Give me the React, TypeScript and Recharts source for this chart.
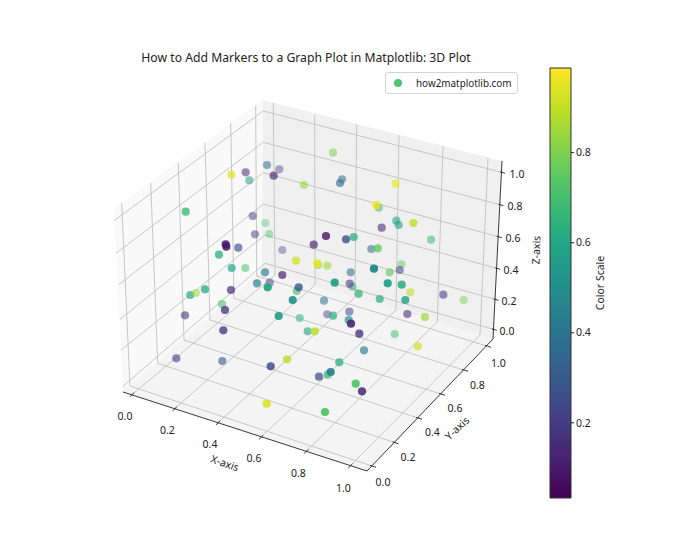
import React from "react";
import { Bar, BarChart, Scatter, ScatterChart, XAxis, YAxis } from "recharts";

const WIDTH = 700;
const HEIGHT = 560;
const FONT = "'Noto Sans', sans-serif";

// Scatter values, in projected plot units.
// Listed back to front so overlapping markers stack like the original.
const projX = [
  267, 279.3, 273.7, 245.7, 249.3, 231.3, 304, 333, 342, 340, 395.7, 185.7, 252.7, 265.3, 255, 269.3,
  378.7, 376.3, 396.3, 398.7, 413.3, 381.7, 225.7, 226.3, 238.3, 219, 282.3, 326, 313.7, 346, 353.7,
  431, 371.3, 377.7, 296, 318, 317.3, 327.3, 231.7, 245.3, 265, 282.3, 257, 269.7, 267.7, 296.7, 298.7,
  401.3, 374, 350.7, 389.7, 399.7, 205, 190.3, 196, 231, 222, 225, 334.7, 352.3, 349.7, 387.7, 401.7,
  410.3, 358.7, 443.3, 463.7, 292.7, 324, 379.7, 405.3, 185, 278.7, 299.7, 349.3, 327.3, 333, 407.3,
  425, 348.7, 351, 223.3, 307.7, 314.7, 359.3, 394.7, 176.3, 222.3, 287, 270.7, 417.7, 364, 339.3,
  327.7, 319, 330.7, 355.7, 362, 266.7, 325,
];
const projY = [
  165, 169.3, 175.7, 172.3, 180.3, 174.7, 185, 152.7, 179.3, 183, 183.7, 211.7, 216, 223, 234.3, 234,
  207.7, 205, 220.7, 225, 223, 227.7, 244.3, 246.7, 247.7, 254.7, 250, 236, 244.7, 239.3, 237,
  239.7, 249, 248.3, 260.7, 265, 263.3, 265.7, 268, 268, 272.3, 275, 283.3, 282.7, 287.3, 291, 287.3,
  264.3, 268.7, 272.3, 272.3, 270, 289.3, 295, 293, 290, 304, 310, 282.7, 286.7, 283.7, 283.3, 284.7,
  292.3, 293.7, 294.7, 300, 300, 300.7, 299, 300, 315.3, 316, 318, 311.7, 314.3, 315.7, 314,
  317, 320, 323.7, 330.3, 331.3, 331.3, 333.7, 334, 358.3, 361, 359.3, 366.3, 346.3, 350.3, 362.3,
  374.7, 376.7, 372, 383.7, 391.3, 403.7, 412,
];
const colorValue = [
  0.38, 0.2, 0.1, 0.12, 0.58, 0.95, 0.85, 0.8, 0.35, 0.33, 0.97, 0.68, 0.15, 0.72, 0.18, 0.72,
  0.72, 0.97, 0.6, 0.55, 0.9, 0.12, 0.07, 0.06, 0.22, 0.62, 0.2, 0.06, 0.07, 0.25, 0.6,
  0.68, 0.35, 0.75, 0.93, 0.78, 0.97, 0.87, 0.6, 0.72, 0.42, 0.1, 0.45, 0.17, 0.6, 0.68, 0.27,
  0.75, 0.45, 0.33, 0.75, 0.2, 0.6, 0.62, 0.85, 0.13, 0.7, 0.13, 0.58, 0.55, 0.13, 0.58, 0.62,
  0.9, 0.67, 0.2, 0.8, 0.5, 0.38, 0.62, 0.57, 0.18, 0.55, 0.65, 0.22, 0.15, 0.62, 0.15,
  0.85, 0.5, 0.12, 0.18, 0.55, 0.9, 0.17, 0.72, 0.17, 0.27, 0.9, 0.25, 0.93, 0.42, 0.62,
  0.65, 0.2, 0.42, 0.72, 0.1, 0.95, 0.73,
];
const depthShade = [
  0.55, 0.45, 0.65, 0.55, 0.55, 0.7, 0.6, 0.55, 0.55, 0.6, 0.7, 0.8, 0.5, 0.4, 0.5, 0.45,
  0.6, 0.8, 0.6, 0.6, 0.8, 0.6, 0.85, 0.85, 0.65, 0.75, 0.4, 0.8, 0.65, 0.8, 0.7,
  0.55, 0.55, 0.8, 0.75, 0.55, 0.9, 0.6, 0.7, 0.55, 0.65, 0.7, 0.7, 0.5, 0.95, 0.6, 0.8,
  0.5, 0.95, 0.55, 0.6, 0.55, 0.75, 0.7, 0.55, 0.7, 0.6, 0.75, 0.95, 0.45, 0.55, 0.95, 0.85,
  0.6, 0.75, 0.6, 0.5, 0.9, 0.55, 0.7, 0.8, 0.6, 0.9, 0.55, 0.55, 0.45, 0.7, 0.6,
  0.7, 0.7, 0.9, 0.8, 0.6, 0.85, 0.8, 0.55, 0.6, 0.6, 0.8, 0.85, 0.7, 0.65, 0.75,
  0.7, 0.7, 0.9, 0.9, 0.85, 0.9, 0.95,
];

const tickLabels = ["0.0", "0.2", "0.4", "0.6", "0.8", "1.0"];
const colorbarTicks = [0.2, 0.4, 0.6, 0.8];
const colorbarMin = 0.033;
const colorbarMax = 0.988;

type P = [number, number];

// box of the 3D axes
const floorLeft: P = [123, 392];
const floorFront: P = [367, 471];
const floorRight: P = [493, 339];
const floorBack: P = [262, 271];
const topBack: P = [263, 100];
const topRight: P = [502, 161];
const topLeft: P = [114, 209];

// grid anchors for 0.0 .. 1.0 on each axis
const xFront: P[] = [[131.7, 394.8], [174.3, 409], [217.7, 423], [260.7, 437.4], [306, 451.5], [350, 466]];
const xBack: P[] = [[275, 275], [315, 285], [355, 297.3], [396, 310], [437.3, 321.7], [480, 335]];
const xTop: P[] = [[273.3, 103], [314.7, 115], [356.7, 124], [399, 135], [443, 146], [488, 157.7]];
const yFront: P[] = [[372, 466], [394.5, 442.5], [418, 418], [441, 394], [464, 370], [487, 346]];
const yLeft: P[] = [[130, 386], [157.7, 363.3], [184, 340], [210, 320], [234, 298.3], [256.7, 276]];
const yTop: P[] = [[121.7, 203], [150.7, 183], [178.3, 162.7], [205, 143], [230.7, 123.3], [255.7, 105.7]];
const zLeft: P[] = [[122.7, 386.7], [121, 350], [120, 319.3], [118.3, 285], [116, 253.3], [114, 220.7]];
const zBack: P[] = [[265, 263.3], [265, 235], [263.3, 204], [263.3, 172.7], [263.3, 142.3], [263.3, 111]];
const zRight: P[] = [[493.3, 329.3], [495, 299.3], [496.7, 268.3], [498.3, 236.7], [500, 204.7], [501.5, 172.3]];

const xLabelPos: P[] = [[125, 416], [167.3, 430], [210, 444], [254, 458.3], [298.3, 473.3], [343.3, 487.7]];
const yLabelPos: P[] = [[383, 482], [408, 456.7], [432.3, 432.3], [455, 408.3], [477.3, 385], [498.3, 362.7]];
const zLabelPos: P[] = [[507, 331], [509, 301], [511, 270], [513, 238], [515, 206], [517, 174]];

const viridisStops = [
  "#440154", "#482475", "#414487", "#355f8d", "#2a788e", "#21918c",
  "#22a884", "#44bf70", "#7ad151", "#bddf26", "#fde725",
];

const hexToRgb = (h: string) => [1, 3, 5].map((i) => parseInt(h.slice(i, i + 2), 16));

const viridis = (t: number) => {
  const pos = Math.min(Math.max(t, 0), 1) * (viridisStops.length - 1);
  const i = Math.min(Math.floor(pos), viridisStops.length - 2);
  const a = hexToRgb(viridisStops[i]);
  const b = hexToRgb(viridisStops[i + 1]);
  const c = a.map((v, k) => Math.round(v + (b[k] - v) * (pos - i)));
  return `rgb(${c[0]},${c[1]},${c[2]})`;
};

const points = projX.map((x, i) => ({ x, y: projY[i], c: colorValue[i], a: depthShade[i] }));

const noMark = () => <g />;

const Dot = (p: any) => (
  <circle cx={p.cx} cy={p.cy} r={4.1} fill={viridis(p.payload.c)} fillOpacity={p.payload.a} />
);

const Label = (p: any) => {
  const { text, size = 10.5, angle = 0 } = p.payload;
  return (
    <text
      x={p.cx}
      y={p.cy}
      fontSize={size}
      fontFamily={FONT}
      fill="#222"
      textAnchor="middle"
      dominantBaseline="central"
      transform={angle ? `rotate(${angle} ${p.cx} ${p.cy})` : undefined}
    >
      {text}
    </text>
  );
};

const toPts = (ps: P[]) => ps.map(([x, y]) => ({ x, y }));

const pane = (key: string, ps: P[], fill: string) => (
  <Scatter
    key={key}
    data={toPts([...ps, ps[0]])}
    line={{ fill, stroke: "none" }}
    shape={noMark}
    isAnimationActive={false}
  />
);

const seg = (key: string, ps: P[], stroke = "#c6c6c6", strokeWidth = 1) => (
  <Scatter
    key={key}
    data={toPts(ps)}
    line={{ stroke, strokeWidth, fill: "none" }}
    shape={noMark}
    isAnimationActive={false}
  />
);

const shift = ([x, y]: P, dx: number, dy: number): P => [x + dx, y + dy];

const labelData = [
  { x: 306, y: 57, text: "How to Add Markers to a Graph Plot in Matplotlib: 3D Plot", size: 12.2 },
  { x: 225, y: 463, text: "X-axis", size: 10.5, angle: 19 },
  { x: 457, y: 428, text: "Y-axis", size: 10.5, angle: -43 },
  { x: 536, y: 250, text: "Z-axis", size: 10.5, angle: -88 },
  { x: 600, y: 283, text: "Color Scale", size: 10.5, angle: -90 },
  ...tickLabels.flatMap((text, i) => [
    { x: xLabelPos[i][0], y: xLabelPos[i][1], text },
    { x: yLabelPos[i][0], y: yLabelPos[i][1], text },
    { x: zLabelPos[i][0], y: zLabelPos[i][1], text },
  ]),
];

export default function App() {
  return (
    <div style={{ position: "absolute", left: 0, top: 0, width: WIDTH, height: HEIGHT, background: "#fff" }}>
      <ScatterChart width={WIDTH} height={HEIGHT} margin={{ top: 0, right: 0, bottom: 0, left: 0 }}>
        <XAxis type="number" dataKey="x" domain={[0, WIDTH]} hide />
        <YAxis type="number" dataKey="y" domain={[0, HEIGHT]} reversed hide />

        {pane("left", [floorLeft, floorBack, topBack, topLeft], "#f9f9f9")}
        {pane("right", [floorBack, topBack, topRight, floorRight], "#f0f0f0")}
        {pane("floor", [floorLeft, floorFront, floorRight, floorBack], "#f4f4f4")}

        {xFront.map((p, i) => seg(`gx${i}`, [p, xBack[i], xTop[i]]))}
        {yFront.map((p, i) => seg(`gy${i}`, [p, yLeft[i], yTop[i]]))}
        {zLeft.map((p, i) => seg(`gz${i}`, [p, zBack[i], zRight[i]]))}

        {seg("axis", [floorLeft, floorFront, floorRight, topRight], "#222", 0.9)}
        {xFront.map((p, i) => seg(`tx${i}`, [shift(p, 2.5, -2.2), shift(p, -1.8, 2)], "#222", 0.9))}
        {yFront.map((p, i) => seg(`ty${i}`, [shift(p, -2, -0.7), shift(p, 4, 1.3)], "#222", 0.9))}
        {zRight.map((p, i) => seg(`tz${i}`, [shift(p, -1.5, -0.5), shift(p, 3.5, 1)], "#222", 0.9))}

        <Scatter data={points} shape={Dot} isAnimationActive={false} />
        <Scatter data={labelData} shape={Label} isAnimationActive={false} />
      </ScatterChart>

      {/* colorbar */}
      <div style={{ position: "absolute", left: 549, top: 67 }}>
        <BarChart
          width={50}
          height={432}
          data={[{ name: "scale", value: colorbarMax }]}
          margin={{ top: 1, right: 0, bottom: 1, left: 1 }}
          barCategoryGap={0}
        >
          <defs>
            <linearGradient id="viridis" x1="0" y1="1" x2="0" y2="0">
              {viridisStops.map((c, i) => (
                <stop key={c} offset={i / (viridisStops.length - 1)} stopColor={c} />
              ))}
            </linearGradient>
          </defs>
          <XAxis dataKey="name" hide />
          <YAxis
            orientation="right"
            width={28}
            domain={[colorbarMin, colorbarMax]}
            ticks={colorbarTicks}
            tickFormatter={(v: number) => v.toFixed(1)}
            tickSize={3}
            tickLine={{ stroke: "#222" }}
            axisLine={false}
            tick={{ fontSize: 10.5, fontFamily: FONT, fill: "#222" }}
          />
          <Bar dataKey="value" fill="url(#viridis)" stroke="#333" strokeWidth={1} isAnimationActive={false} />
        </BarChart>
      </div>

      {/* legend */}
      <div
        style={{
          position: "absolute",
          left: 385,
          top: 71.5,
          width: 131,
          height: 20,
          border: "1px solid #d4d4d4",
          borderRadius: 3,
          background: "#fff",
          fontFamily: FONT,
          fontSize: 9.9,
          color: "#222",
          display: "flex",
          alignItems: "center",
        }}
      >
        <span
          style={{
            width: 8,
            height: 8,
            marginLeft: 8,
            marginRight: 14,
            borderRadius: "50%",
            background: viridis(0.7),
            opacity: 0.95,
          }}
        />
        how2matplotlib.com
      </div>
    </div>
  );
}
